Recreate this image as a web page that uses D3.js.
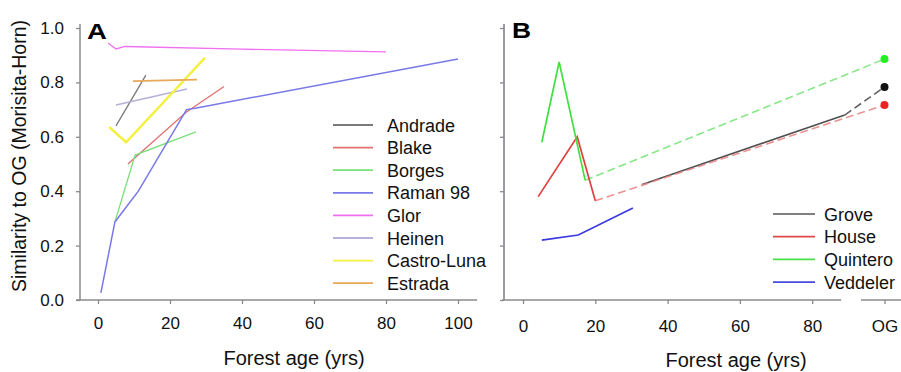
<!DOCTYPE html>
<html>
<head>
<meta charset="utf-8">
<script src="https://cdn.jsdelivr.net/npm/d3@7"></script>
<style>
  html, body { margin: 0; padding: 0; background: #fff; }
  svg { display: block; font-family: "Liberation Sans", Arial, sans-serif; }
</style>
</head>
<body>
<svg id="chart" width="901" height="372"></svg>
<script>
// ---------- Panel A data: [forest age (yrs), similarity] ----------
const seriesA = ["Andrade", "Blake", "Borges", "Raman 98", "Glor", "Heinen", "Castro-Luna", "Estrada"];
const andrade   = [[5, 0.64], [13.3, 0.827]];
const blake     = [[8.3, 0.50], [24.5, 0.69], [35, 0.785]];
const borges    = [[4.7, 0.287], [10.3, 0.533], [27.2, 0.618]];
const raman98   = [[0.8, 0.026], [4.7, 0.287], [11.2, 0.40], [24.6, 0.70], [27, 0.705], [100, 0.886]];
const glor      = [[2.8, 0.945], [5, 0.923], [7.5, 0.932], [40, 0.922], [80, 0.912]];
const heinen    = [[5, 0.717], [24.7, 0.776]];
const castroLuna= [[3.1, 0.636], [7.8, 0.58], [29.7, 0.89]];
const estrada   = [[9.7, 0.805], [27.5, 0.81]];
const dataA = [andrade, blake, borges, raman98, glor, heinen, castroLuna, estrada];

// ---------- Panel B data ----------
const seriesB = ["Grove", "House", "Quintero", "Veddeler"];
const OG_AGE = 100;               // position of the "OG" category on the age axis
const groveSolid    = [[33, 0.425], [89, 0.68]];
const houseSolid    = [[4.2, 0.38], [15, 0.60], [20, 0.365]];
const quinteroSolid = [[5.2, 0.58], [10, 0.875], [17.2, 0.44]];
const veddelerSolid = [[5.2, 0.22], [15.3, 0.239], [30.4, 0.338]];
const ogValues      = [0.783, 0.717, 0.886, null];   // Grove, House, Quintero, Veddeler
// dashed connectors: last sampled point -> OG
const groveDash    = [[89, 0.68], [OG_AGE, 0.783]];
const houseDash    = [[20, 0.365], [OG_AGE, 0.717]];
const quinteroDash = [[17.2, 0.44], [OG_AGE, 0.886]];
const solidB = [groveSolid, houseSolid, quinteroSolid, veddelerSolid];
const dashB  = [groveDash, houseDash, quinteroDash, null];

const yTicks = [0, 0.2, 0.4, 0.6, 0.8, 1.0];
const xTicksA = [0, 20, 40, 60, 80, 100];
const xTicksB = [0, 20, 40, 60, 80, OG_AGE];

// ---------- styles ----------
const colA  = ["#7a7a7a", "#e07070", "#78e078", "#7878e8", "#f070f0", "#b8b0d8", "#f4f040", "#e8a858"];
const widA  = [1.3, 1.3, 1.3, 1.5, 1.3, 1.5, 2.4, 1.8];
const colB  = ["#505050", "#e04040", "#40e040", "#3a3ae0"];
const legColB = ["#808080", "#e04848", "#48e048", "#4848e0"];
const dashCol = ["#606060", "#e88080", "#88e888", null];
const dotCol  = ["#111111", "#ee2222", "#22ee22", null];
const axisCol = "#8a8a8a";

const svg = d3.select("#chart");

// ---------- scales ----------
const y = d3.scaleLinear().domain([0, 1]).range([300, 28]);
const xA = d3.scaleLinear().domain([0, 100]).range([98, 458]);
const xB = d3.scaleLinear().domain([0, 100]).range([523, 884.5]);

const line = (xs) => d3.line().x(d => xs(d[0])).y(d => y(d[1]));

function styleAxis(g) {
  g.selectAll("path.domain").remove();
  g.selectAll(".tick line").attr("stroke", axisCol).attr("stroke-width", 1.3);
  g.selectAll(".tick text").attr("fill", "#111").style("font-size", "17px")
    .style("font-family", '"Liberation Sans", Arial, sans-serif');
}

// ---------- Panel A axes ----------
const gA = svg.append("g");
gA.append("line").attr("x1", 80).attr("x2", 80).attr("y1", y(0)).attr("y2", y(1.015))
  .attr("stroke", axisCol).attr("stroke-width", 1.5);
gA.append("line").attr("x1", xA(-6.1)).attr("x2", xA(105.3)).attr("y1", 300).attr("y2", 300)
  .attr("stroke", axisCol).attr("stroke-width", 1.5);
gA.append("g").attr("transform", "translate(80,0)")
  .call(d3.axisLeft(y).tickValues(yTicks).tickFormat(d3.format(".1f")).tickSize(4).tickPadding(12))
  .call(styleAxis);
gA.append("g").attr("transform", "translate(0,300)")
  .call(d3.axisBottom(xA).tickValues(xTicksA).tickFormat(d3.format("d")).tickSize(4).tickPadding(13))
  .call(styleAxis);

// ---------- Panel B axes ----------
const gB = svg.append("g");
gB.append("line").attr("x1", 504).attr("x2", 504).attr("y1", y(0)).attr("y2", y(1.015))
  .attr("stroke", "#7a7a88").attr("stroke-width", 1.5);
gB.append("line").attr("x1", xB(-5.8)).attr("x2", xB(88)).attr("y1", 300).attr("y2", 300)
  .attr("stroke", axisCol).attr("stroke-width", 1.5);
gB.append("line").attr("x1", xB(93.5)).attr("x2", 901).attr("y1", 300).attr("y2", 300)
  .attr("stroke", axisCol).attr("stroke-width", 1.5);
gB.append("g").attr("transform", "translate(504,0)")
  .call(d3.axisLeft(y).tickValues(yTicks).tickFormat("").tickSize(4))
  .call(styleAxis);
gB.append("g").attr("transform", "translate(0,300)")
  .call(d3.axisBottom(xB).tickValues(xTicksB).tickFormat(d => d === OG_AGE ? "OG" : d3.format("d")(d))
    .tickSize(4).tickPadding(16))
  .call(styleAxis);

// ---------- titles ----------
svg.append("text").attr("transform", "translate(26,156) rotate(-90)")
  .attr("text-anchor", "middle").style("font-size", "19.5px").attr("fill", "#111")
  .text("Similarity to OG (Morisita-Horn)");
svg.append("text").attr("x", 294).attr("y", 365).attr("text-anchor", "middle")
  .style("font-size", "20px").attr("fill", "#111").text("Forest age (yrs)");
svg.append("text").attr("x", 736).attr("y", 367).attr("text-anchor", "middle")
  .style("font-size", "20px").attr("fill", "#111").text("Forest age (yrs)");
svg.append("text").attr("transform", "translate(87,39) scale(1.25,1)")
  .style("font-size", "22px").style("font-weight", "bold").attr("fill", "#000").text("A");
svg.append("text").attr("transform", "translate(512,38) scale(1.2,1)")
  .style("font-size", "22px").style("font-weight", "bold").attr("fill", "#000").text("B");

// ---------- Panel A lines ----------
dataA.forEach((d, i) => {
  svg.append("path").datum(d).attr("d", line(xA))
    .attr("fill", "none").attr("stroke", colA[i]).attr("stroke-width", widA[i])
    .attr("stroke-linejoin", "miter");
});

// ---------- Panel B lines ----------
// Grove solid first (underneath), then dashed connectors, then other solids
svg.append("path").datum(solidB[0]).attr("d", line(xB))
  .attr("fill", "none").attr("stroke", colB[0]).attr("stroke-width", 1.6);
dashB.forEach((d, i) => {
  if (!d) return;
  svg.append("path").datum(d).attr("d", line(xB))
    .attr("fill", "none").attr("stroke", dashCol[i]).attr("stroke-width", 1.6)
    .attr("stroke-dasharray", "8,4").attr("stroke-opacity", i === 1 ? 0.85 : 1);
});
[1, 2, 3].forEach(i => {
  svg.append("path").datum(solidB[i]).attr("d", line(xB))
    .attr("fill", "none").attr("stroke", colB[i]).attr("stroke-width", 1.7);
});
ogValues.forEach((v, i) => {
  if (v == null) return;
  svg.append("circle").attr("cx", xB(OG_AGE)).attr("cy", y(v)).attr("r", 4)
    .attr("fill", dotCol[i]);
});

// ---------- Legends ----------
const legA = svg.append("g");
seriesA.forEach((name, i) => {
  const cy = 125 + i * 22.6;
  legA.append("line").attr("x1", 333).attr("x2", 373).attr("y1", cy).attr("y2", cy)
    .attr("stroke", colA[i]).attr("stroke-width", 1.8);
  legA.append("text").attr("x", 387).attr("y", cy + 6.5).style("font-size", "18px")
    .attr("fill", "#111").text(name);
});
const legB = svg.append("g");
seriesB.forEach((name, i) => {
  const cy = 214 + i * 22.7;
  legB.append("line").attr("x1", 773).attr("x2", 815).attr("y1", cy).attr("y2", cy)
    .attr("stroke", legColB[i]).attr("stroke-width", 1.8);
  legB.append("text").attr("x", 824).attr("y", cy + 6.5).style("font-size", "18px")
    .attr("fill", "#111").text(name);
});
</script>
</body>
</html>
